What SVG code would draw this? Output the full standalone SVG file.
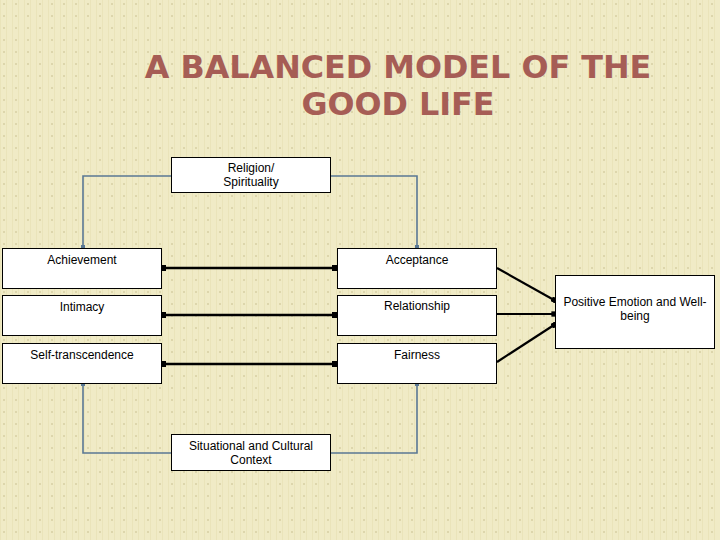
<svg xmlns="http://www.w3.org/2000/svg" width="720" height="540" viewBox="0 0 720 540">
<defs>
<pattern id="bg" width="12" height="12" patternUnits="userSpaceOnUse">
<rect width="12" height="12" fill="#F0EBC6"/>
<rect x="0" y="0" width="1" height="12" fill="#EAE4BA"/>
<rect x="6" y="0" width="1" height="12" fill="#EAE4BA"/>
<rect x="3" y="3" width="2" height="2" fill="#DDD6AC"/>
</pattern>
<marker id="dot" viewBox="0 0 6 6" refX="3" refY="3" markerWidth="2.4" markerHeight="2.4" orient="auto"><rect width="6" height="6" fill="#000"/></marker>
<marker id="bdot" viewBox="0 0 6 6" refX="3" refY="3" markerWidth="2.6" markerHeight="2.6" orient="auto"><rect width="6" height="6" fill="#5A7894"/></marker>
</defs>
<style>
.box{fill:#fff;stroke:#000;stroke-width:1}
.t{font-family:"Liberation Sans",Arial,sans-serif;font-size:12px;fill:#000;text-anchor:middle}
.title{font-family:"DejaVu Sans",Verdana,sans-serif;font-weight:bold;font-size:31.8px;fill:#A65D55;text-anchor:middle}
.blue{fill:none;stroke:#5A7894;stroke-width:1.6;marker-end:url(#bdot)}
.blk{fill:none;stroke:#000;stroke-width:2.6;marker-start:url(#dot);marker-end:url(#dot)}
.blk1{fill:none;stroke:#000;stroke-width:2.2;marker-end:url(#dot)}
</style>
<rect width="720" height="540" fill="url(#bg)"/>
<g id="title">
<text class="title" x="398" y="78">A BALANCED MODEL OF THE</text>
<text class="title" x="398" y="115">GOOD LIFE</text>
</g>
<g id="connectors">
<polyline class="blue" points="171,176 83,176 83,247"/>
<polyline class="blue" points="330,176 417,176 417,247"/>
<polyline class="blue" points="171,453 83,453 83,384"/>
<polyline class="blue" points="330,453 417,453 417,384"/>
<line class="blk" x1="163" y1="268" x2="335" y2="268"/>
<line class="blk" x1="163" y1="315" x2="335" y2="315"/>
<line class="blk" x1="163" y1="364" x2="335" y2="364"/>
<line class="blk1" x1="497" y1="268" x2="554" y2="300"/>
<line class="blk1" x1="497" y1="314" x2="554" y2="314"/>
<line class="blk1" x1="497" y1="362" x2="554" y2="325"/>
</g>
<g id="religion"><rect class="box" x="171.5" y="157.5" width="159" height="35"/><text class="t" x="251" y="172">Religion/</text><text class="t" x="251" y="186">Spirituality</text></g>
<g id="achievement"><rect class="box" x="2.5" y="248.5" width="159" height="40"/><text class="t" x="82" y="264">Achievement</text></g>
<g id="acceptance"><rect class="box" x="337.5" y="248.5" width="159" height="40"/><text class="t" x="417" y="264">Acceptance</text></g>
<g id="intimacy"><rect class="box" x="2.5" y="295.5" width="159" height="40"/><text class="t" x="82" y="311">Intimacy</text></g>
<g id="relationship"><rect class="box" x="337.5" y="295.5" width="159" height="40"/><text class="t" x="417" y="310">Relationship</text></g>
<g id="selftranscendence"><rect class="box" x="2.5" y="343.5" width="159" height="40"/><text class="t" x="82" y="359">Self-transcendence</text></g>
<g id="fairness"><rect class="box" x="337.5" y="343.5" width="159" height="40"/><text class="t" x="417" y="359">Fairness</text></g>
<g id="context"><rect class="box" x="171.5" y="434.5" width="159" height="36"/><text class="t" x="251" y="450">Situational and Cultural</text><text class="t" x="251" y="464">Context</text></g>
<g id="positive"><rect class="box" x="555.5" y="275.5" width="159" height="73"/><text class="t" x="635" y="306">Positive Emotion and Well-</text><text class="t" x="635" y="320">being</text></g>
</svg>
